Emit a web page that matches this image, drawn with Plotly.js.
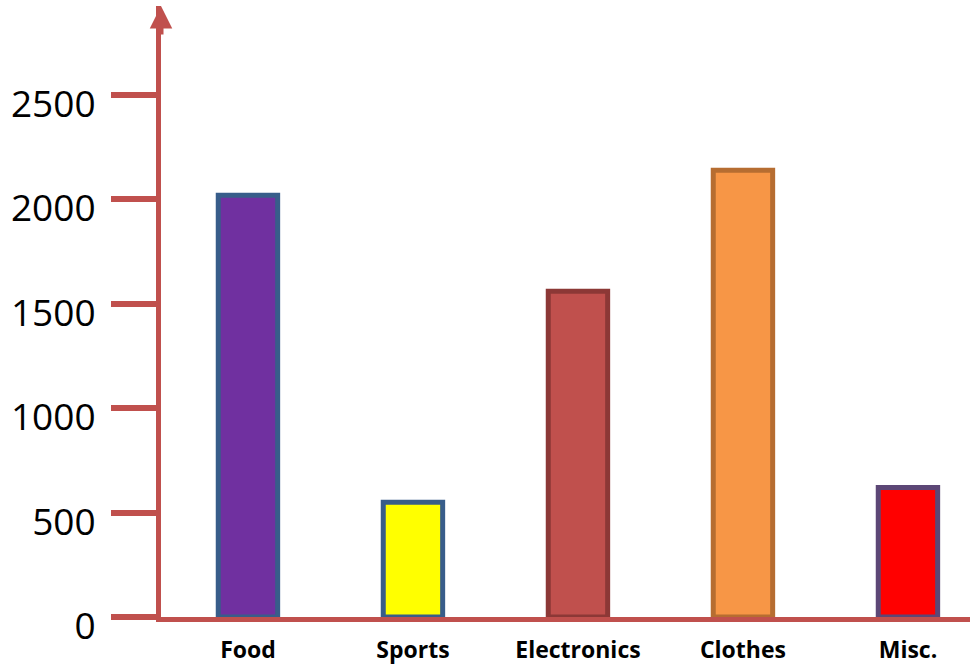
<!DOCTYPE html>
<html>
<head>
<meta charset="utf-8">
<script src="https://cdn.plot.ly/plotly-3.0.1.min.js"></script>
<style>html,body{margin:0;padding:0;background:#fff;}#chart{width:970px;height:664px;}</style>
</head>
<body>
<div id="chart"></div>
<script>
const categories = ['Food', 'Sports', 'Electronics', 'Clothes', 'Misc.'];
const values = [2020, 550, 1560, 2140, 620];
const fillColors = ['#7030a0', '#ffff00', '#c0504d', '#f79646', '#ff0000'];
const borderColors = ['#385d8a', '#385d8a', '#8c3836', '#b66d31', '#5c4776'];
const yTickValues = [0, 500, 1000, 1500, 2000, 2500];
const yTickLabels = ['0', '500', '1000', '1500', '2000', '2500'];

const axisRed = '#c0504d';

const trace = {
  type: 'bar',
  x: categories,
  y: values,
  width: 0.36,
  marker: {
    color: fillColors,
    line: {color: borderColors, width: 5}
  },
  hoverinfo: 'x+y'
};

const layout = {
  width: 970,
  height: 664,
  margin: {l: 161, r: 0, t: 6, b: 47},
  paper_bgcolor: '#ffffff',
  plot_bgcolor: '#ffffff',
  showlegend: false,
  xaxis: {
    type: 'category',
    range: [-0.527, 4.376],
    showline: true,
    linecolor: axisRed,
    linewidth: 5,
    showgrid: false,
    zeroline: false,
    ticks: '',
    tickfont: {family: 'Open Sans, sans-serif', size: 23, color: '#000', weight: 'bold'},
    ticklabelstandoff: 8,
    fixedrange: true
  },
  yaxis: {
    range: [0, 2926],
    showline: true,
    linecolor: axisRed,
    linewidth: 5,
    showgrid: false,
    zeroline: false,
    ticks: 'outside',
    ticklen: 45,
    tickwidth: 6,
    tickcolor: axisRed,
    tickvals: yTickValues,
    ticktext: yTickLabels,
    tickfont: {family: 'Open Sans, sans-serif', size: 37, color: '#000'},
    ticklabelstandoff: 8,
    ticklabelshift: 9,
    fixedrange: true
  },
  annotations: [{
    xref: 'paper', yref: 'paper',
    x: 0, y: 1,
    ax: 0, ay: 30,
    text: '',
    showarrow: true,
    arrowhead: 2,
    arrowsize: 0.9,
    arrowwidth: 5,
    arrowcolor: axisRed
  }]
};

Plotly.newPlot('chart', [trace], layout, {displayModeBar: false, staticPlot: true});
</script>
</body>
</html>
